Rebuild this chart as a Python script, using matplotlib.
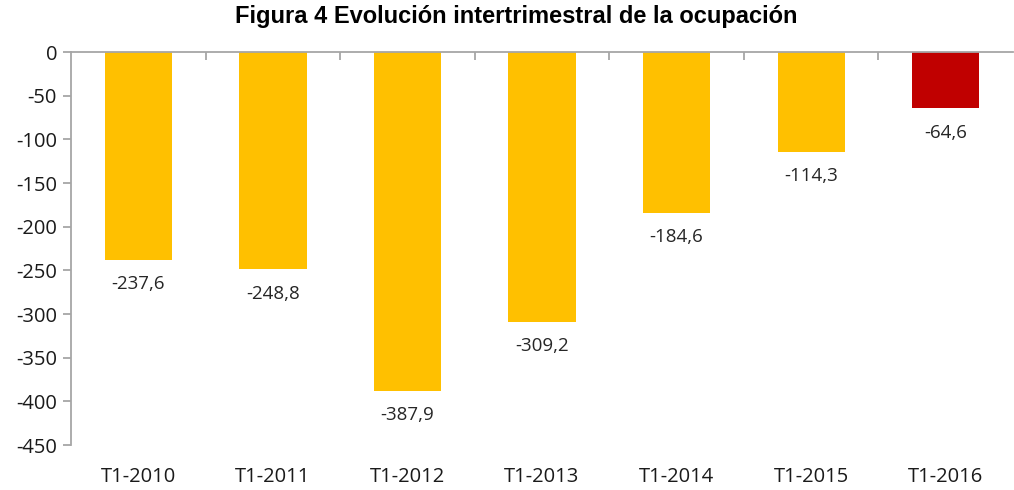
import matplotlib
matplotlib.use("Agg")
import matplotlib.pyplot as plt

# Data
categories = ["T1-2010", "T1-2011", "T1-2012", "T1-2013", "T1-2014", "T1-2015", "T1-2016"]
values = [-237.6, -248.8, -387.9, -309.2, -184.6, -114.3, -64.6]
colors = ["#FFC000"] * 6 + ["#C00000"]
yticks = [0, -50, -100, -150, -200, -250, -300, -350, -400, -450]

plt.rcParams['font.family'] = ['Open Sans', 'DejaVu Sans']

fig = plt.figure(figsize=(10.14, 4.9), dpi=100)
ax = fig.add_axes([71 / 1014, 1 - 445 / 490, (1013 - 71) / 1014, (445 - 52) / 490])

x = list(range(len(categories)))
ax.bar(x, values, width=0.5, color=colors, zorder=2)

# Value labels below each bar
for xi, v in zip(x, values):
    ax.annotate(f"{v:.1f}".replace(".", ","), (xi, v), xytext=(0, -11),
                textcoords="offset points", ha="center", va="top",
                fontsize=13.5, color="#262626")

ax.set_xlim(-0.5, len(categories) - 0.5)
ax.set_ylim(-450, 0)
ax.set_yticks(yticks)
ax.set_yticklabels([str(t) for t in yticks], fontsize=14.5, color="#1a1a1a")

# x axis line sits at zero (top); category labels at the bottom
ax.spines['right'].set_visible(False)
ax.spines['bottom'].set_visible(False)
ax.spines['top'].set_color("#A6A6A6")
ax.spines['left'].set_color("#A6A6A6")
ax.spines['top'].set_linewidth(1.3)
ax.spines['left'].set_linewidth(1.3)
ax.tick_params(axis='y', length=6, width=1.3, color="#A6A6A6", pad=4)

ax.set_xticks([i + 0.5 for i in x[:-1]])
ax.xaxis.set_ticks_position('top')
ax.tick_params(axis='x', direction='in', length=6, width=1.3, color="#A6A6A6", labeltop=False)
for xi, c in zip(x, categories):
    ax.annotate(c, (xi, -450), xytext=(0, -23), textcoords="offset points",
                ha="center", va="center", fontsize=14.5, color="#1a1a1a",
                annotation_clip=False)

fig.text(516 / 1014, 1 - 16 / 490, "Figura 4 Evolución intertrimestral de la ocupación",
         ha="center", va="center", fontsize=17, fontweight="bold",
         family=["Liberation Sans", "DejaVu Sans"])

plt.savefig("out.png", dpi=100)
